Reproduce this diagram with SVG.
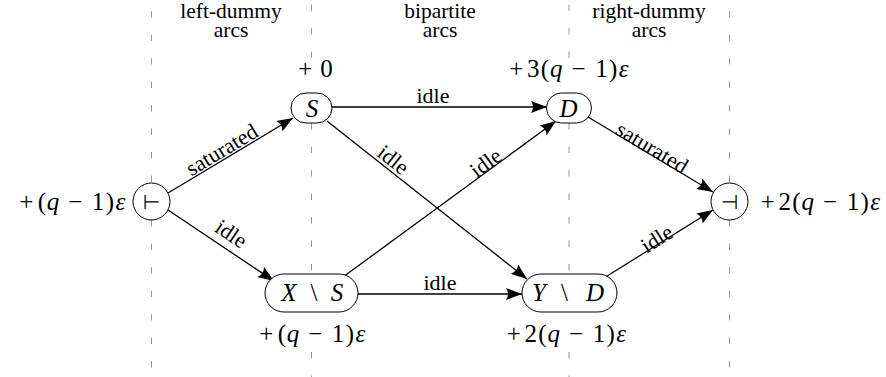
<svg xmlns="http://www.w3.org/2000/svg" width="886" height="377" viewBox="0 0 886 377" font-family="'Liberation Serif','Times New Roman',serif">
<style>
text{font-family:"Liberation Serif","Times New Roman",serif;font-size:22px;fill:#000}
.i{font-style:italic}
.m{font-size:25px;text-anchor:middle}
.h{font-size:21.5px;text-anchor:middle}
.lab{font-size:25px;text-anchor:middle}
.sym{font-family:"DejaVu Sans",sans-serif;font-size:20px}
.dash{stroke:#999;stroke-width:1;stroke-dasharray:6.5 17;fill:none}
.node{fill:#fff;stroke:#000;stroke-width:1}
.edge{stroke:#000;stroke-width:1.3;fill:none;marker-end:url(#ah)}
</style>
<defs>
<marker id="ah" markerWidth="16" markerHeight="12" refX="16" refY="6" orient="auto" markerUnits="userSpaceOnUse">
<path d="M0,0 Q4,6 0,12 L16,6 Z" fill="#000"/>
</marker>
</defs>
<rect width="886" height="377" fill="#fff"/>
<g id="guides">
<line class="dash" x1="151.5" y1="182" x2="151.5" y2="0"/>
<line class="dash" x1="151.5" y1="220" x2="151.5" y2="377"/>
<line class="dash" x1="311.5" y1="58" x2="311.5" y2="0"/>
<line class="dash" x1="311.5" y1="123" x2="311.5" y2="274"/>
<line class="dash" x1="311.5" y1="352" x2="311.5" y2="377"/>
<line class="dash" x1="569" y1="58" x2="569" y2="0"/>
<line class="dash" x1="569" y1="123" x2="569" y2="274"/>
<line class="dash" x1="569" y1="352" x2="569" y2="377"/>
<line class="dash" x1="729.5" y1="182" x2="729.5" y2="0"/>
<line class="dash" x1="729.5" y1="220" x2="729.5" y2="377"/>
</g>
<g id="headers">
<text class="h" x="231" y="18">left-dummy</text>
<text class="h" x="231" y="37">arcs</text>
<text class="h" x="440" y="18">bipartite</text>
<text class="h" x="440" y="37">arcs</text>
<text class="h" x="649" y="18">right-dummy</text>
<text class="h" x="649" y="37">arcs</text>
</g>
<g id="connectors">
<line class="edge" x1="168" y1="193" x2="293" y2="118"/>
<line class="edge" x1="168" y1="210" x2="274" y2="281"/>
<line class="edge" x1="331" y1="107" x2="547" y2="107"/>
<line class="edge" x1="327" y1="121" x2="527" y2="279"/>
<line class="edge" x1="343" y1="277" x2="556" y2="121"/>
<line class="edge" x1="358" y1="294" x2="522" y2="294"/>
<line class="edge" x1="588" y1="117" x2="713" y2="192"/>
<line class="edge" x1="604" y1="278" x2="713" y2="210"/>
<text transform="translate(222,150) rotate(-31)" y="7" text-anchor="middle">saturated</text>
<text transform="translate(231,234) rotate(33.8)" y="7" text-anchor="middle">idle</text>
<text x="433" y="103" text-anchor="middle">idle</text>
<text transform="translate(393,160) rotate(38.3)" y="7" text-anchor="middle">idle</text>
<text transform="translate(486,163) rotate(-36.2)" y="7" text-anchor="middle">idle</text>
<text x="440" y="290" text-anchor="middle">idle</text>
<text transform="translate(652,148) rotate(31)" y="7" text-anchor="middle">saturated</text>
<text transform="translate(657,239) rotate(-32)" y="7" text-anchor="middle">idle</text>
</g>
<g id="n-start">
<circle class="node" cx="151.5" cy="201.5" r="18.5"/>
<text class="sym" x="151.5" y="208.5" text-anchor="middle">⊢</text>
<text class="m" y="210"><tspan x="26.3">+</tspan><tspan x="41.8">(</tspan><tspan x="53" class="i">q</tspan><tspan x="75.3">−</tspan><tspan x="98.1">1</tspan><tspan x="109.9">)</tspan><tspan x="120.4" class="i">ε</tspan></text>
</g>
<g id="n-S">
<rect class="node" x="291" y="93" width="41" height="30" rx="15" ry="15"/>
<text class="lab i" x="312" y="117">S</text>
<text class="m" y="77"><tspan x="305.3">+</tspan><tspan x="326.4">0</tspan></text>
</g>
<g id="n-D">
<rect class="node" x="546.5" y="93" width="45" height="30" rx="15" ry="15"/>
<text class="lab i" x="568.5" y="117">D</text>
<text class="m" y="77"><tspan x="516.3">+</tspan><tspan x="533.2">3</tspan><tspan x="545">(</tspan><tspan x="556.3" class="i">q</tspan><tspan x="578.6">−</tspan><tspan x="601.4">1</tspan><tspan x="613.2">)</tspan><tspan x="623.7" class="i">ε</tspan></text>
</g>
<g id="n-end">
<circle class="node" cx="729.5" cy="201.5" r="18.5"/>
<text class="sym" x="729.5" y="208.5" text-anchor="middle">⊣</text>
<text class="m" y="210"><tspan x="767.8">+</tspan><tspan x="784.7">2</tspan><tspan x="796.5">(</tspan><tspan x="807.8" class="i">q</tspan><tspan x="830.1">−</tspan><tspan x="852.9">1</tspan><tspan x="864.7">)</tspan><tspan x="875.2" class="i">ε</tspan></text>
</g>
<g id="n-XS">
<rect class="node" x="265" y="274" width="93" height="38" rx="19" ry="19"/>
<text class="lab" y="301"><tspan x="289" class="i">X</tspan><tspan x="314">\</tspan><tspan x="337" class="i">S</tspan></text>
<text class="m" y="342"><tspan x="266.3">+</tspan><tspan x="281.8">(</tspan><tspan x="293" class="i">q</tspan><tspan x="315.3">−</tspan><tspan x="338.1">1</tspan><tspan x="349.9">)</tspan><tspan x="360.4" class="i">ε</tspan></text>
</g>
<g id="n-YD">
<rect class="node" x="522" y="274" width="95" height="38" rx="19" ry="19"/>
<text class="lab" y="301"><tspan x="539" class="i">Y</tspan><tspan x="564.5">\</tspan><tspan x="595" class="i">D</tspan></text>
<text class="m" y="342"><tspan x="513.8">+</tspan><tspan x="530.7">2</tspan><tspan x="542.5">(</tspan><tspan x="553.8" class="i">q</tspan><tspan x="576.1">−</tspan><tspan x="598.9">1</tspan><tspan x="610.7">)</tspan><tspan x="621.2" class="i">ε</tspan></text>
</g>
</svg>
